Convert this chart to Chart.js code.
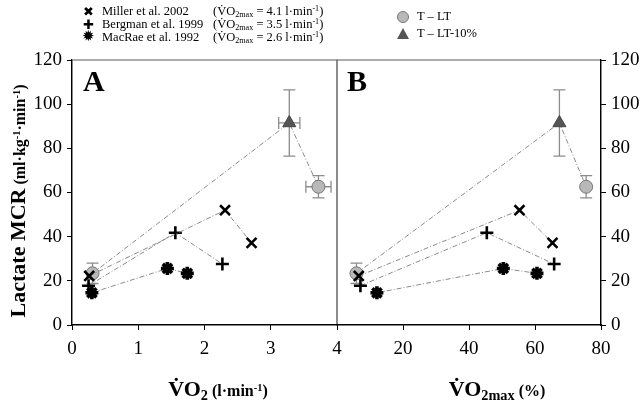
<!DOCTYPE html>
<html>
<head>
<meta charset="utf-8">
<script src="https://cdn.jsdelivr.net/npm/chart.js@4.4.1/dist/chart.umd.min.js"></script>
<style>
  body { margin: 0; background: #fff; }
  #wrap { position: relative; width: 640px; height: 403px; background: #fff; overflow: hidden;
          font-family: "Liberation Serif", "Times New Roman", serif; color: #000; }
  canvas { position: absolute; top: 0; }
  .t { position: absolute; white-space: nowrap; line-height: 1; }
  .leg { position: absolute; white-space: nowrap; font-size: 12.5px; line-height: 13px; }
  .sym { position: absolute; font-family: "DejaVu Sans", sans-serif; font-size: 13px; line-height: 13px; }
  sub, sup { font-size: 65%; line-height: 0; position: relative; vertical-align: baseline; }
  sub { top: 0.3em; }
  sup { top: -0.5em; }
</style>
</head>
<body>
<div id="wrap">
  <canvas id="chartA" width="360" height="403" style="left:0"></canvas>
  <canvas id="chartB" width="324" height="403" style="left:316px"></canvas>

  <!-- leyenda de estudios -->
  <div class="sym" style="left:83px;top:5px">✖</div>
  <div class="sym" style="left:83px;top:18px">✚</div>
  <div class="sym" style="left:82px;top:30px;font-size:15px">✹</div>
  <div class="leg" style="left:102px;top:5px">Miller et al. 2002</div>
  <div class="leg" style="left:102px;top:18px">Bergman et al. 1999</div>
  <div class="leg" style="left:102px;top:31px">MacRae et al. 1992</div>
  <div class="leg" style="left:213px;top:5px">(V&#775;O<sub>2max</sub> = 4.1 l·min<sup>-1</sup>)</div>
  <div class="leg" style="left:213px;top:18px">(V&#775;O<sub>2max</sub> = 3.5 l·min<sup>-1</sup>)</div>
  <div class="leg" style="left:213px;top:31px">(V&#775;O<sub>2max</sub> = 2.6 l·min<sup>-1</sup>)</div>

  <!-- leyenda T -->
  <div style="position:absolute;left:397px;top:11px;width:12px;height:12px;border-radius:50%;background:#b8b8b8;border:1px solid #777;box-sizing:border-box"></div>
  <div style="position:absolute;left:397px;top:28px;width:0;height:0;border-left:6px solid transparent;border-right:6px solid transparent;border-bottom:11px solid #555"></div>
  <div class="leg" style="left:417px;top:10px">T – LT</div>
  <div class="leg" style="left:417px;top:27px">T – LT-10%</div>

  <!-- letras de panel -->
  <div class="t" style="left:83px;top:66px;font-size:30px;font-weight:bold">A</div>
  <div class="t" style="left:347px;top:66px;font-size:30px;font-weight:bold">B</div>

  <!-- titulos de ejes -->
  <div class="t" style="left:-111px;top:188px;width:260px;text-align:center;transform:rotate(-90deg);font-weight:bold;line-height:24px">
    <span style="font-size:22px">Lactate MCR</span> <span style="font-size:16px">(ml·kg<sup>-1</sup>·min<sup>-1</sup>)</span>
  </div>
  <div class="t" style="left:118px;top:378px;width:200px;text-align:center;font-weight:bold">
    <span style="font-size:22px">V&#775;O<sub>2</sub></span> <span style="font-size:16px">(l·min<sup>-1</sup>)</span>
  </div>
  <div class="t" style="left:397px;top:378px;width:200px;text-align:center;font-weight:bold">
    <span style="font-size:22px">V&#775;O<sub>2max</sub></span> <span style="font-size:16px">(%)</span>
  </div>
</div>

<script>
// Valores
const mcrTicks = [0, 20, 40, 60, 80, 100, 120];

const millerVO2 = [0.26, 2.31, 2.71];
const millerPct = [6.6, 55.3, 65.3];
const millerMCR = [22.2, 52.0, 37.2];

const bergmanVO2 = [0.25, 1.56, 2.27];
const bergmanPct = [7.1, 45.4, 65.8];
const bergmanMCR = [17.8, 41.8, 27.6];

const macraeVO2 = [0.30, 1.44, 1.74];
const macraePct = [12.1, 50.4, 60.6];
const macraeMCR = [14.6, 25.6, 23.4];

// T: reposo, T-LT-10%, T-LT
const tVO2 = [0.31, 3.28, 3.72];
const tPct = [5.9, 67.4, 75.5];
const tMCR = [23.4, 91.5, 62.6];
const tMCRerr = [4.6, 15.0, 5.0];
const tVO2err = [0, 0.16, 0.19];
const tPctErr = [0, 0, 0];

const serif = "'Liberation Serif', 'Times New Roman', serif";
const lineGray = "#8a8a8a";
const dash = [5, 2, 1, 2];

function pts(xs, ys) {
  return xs.map((x, i) => ({ x: x, y: ys[i] }));
}

// barras de error con las escalas del grafico
const errorBars = {
  id: "errorBars",
  beforeDatasetsDraw(chart) {
    const ctx = chart.ctx;
    const xs = chart.scales.x, ys = chart.scales.y;
    ctx.save();
    ctx.strokeStyle = "#8c8c8c";
    ctx.lineWidth = 1.3;
    chart.data.datasets.forEach(ds => {
      if (!ds.errY) return;
      ds.data.forEach((p, j) => {
        const px = xs.getPixelForValue(p.x), py = ys.getPixelForValue(p.y);
        const ey = ds.errY[j], ex = ds.errX ? ds.errX[j] : 0;
        if (ey > 0) {
          const y1 = ys.getPixelForValue(p.y + ey), y2 = ys.getPixelForValue(p.y - ey);
          ctx.beginPath();
          ctx.moveTo(px, y1); ctx.lineTo(px, y2);
          ctx.moveTo(px - 6, y1); ctx.lineTo(px + 6, y1);
          ctx.moveTo(px - 6, y2); ctx.lineTo(px + 6, y2);
          ctx.stroke();
        }
        if (ex > 0) {
          const x1 = xs.getPixelForValue(p.x - ex), x2 = xs.getPixelForValue(p.x + ex);
          ctx.beginPath();
          ctx.moveTo(x1, py); ctx.lineTo(x2, py);
          ctx.moveTo(x1, py - 6); ctx.lineTo(x1, py + 6);
          ctx.moveTo(x2, py - 6); ctx.lineTo(x2, py + 6);
          ctx.stroke();
        }
      });
    });
    ctx.restore();
  }
};

// marco gris del area
const frame = {
  id: "frame",
  beforeDraw(chart) {
    const { ctx, chartArea: a } = chart;
    ctx.save();
    ctx.strokeStyle = "#777";
    ctx.lineWidth = 1.2;
    ctx.strokeRect(a.left, a.top, a.right - a.left, a.bottom - a.top);
    ctx.restore();
  }
};

function datasets(xMiller, xBergman, xMacrae, xT, errX) {
  const base = { showLine: true, borderColor: lineGray, borderWidth: 1, borderDash: dash, fill: false };
  return [
    Object.assign({}, base, { label: "Miller et al. 2002", data: pts(xMiller, millerMCR),
      pointStyle: "crossRot", pointRadius: 7, pointBorderColor: "#000", pointBorderWidth: 2.6 }),
    Object.assign({}, base, { label: "Bergman et al. 1999", data: pts(xBergman, bergmanMCR),
      pointStyle: "cross", pointRadius: 6.5, pointBorderColor: "#000", pointBorderWidth: 2.6 }),
    Object.assign({}, base, { label: "MacRae et al. 1992", data: pts(xMacrae, macraeMCR),
      pointStyle: "star", pointRadius: 6.5, pointBorderColor: "#000", pointBorderWidth: 3.6 }),
    Object.assign({}, base, { label: "T", data: pts(xT, tMCR),
      pointStyle: ["circle", "triangle", "circle"], pointRadius: [6.5, 7.5, 6.5],
      pointBackgroundColor: ["#b8b8b8", "#555555", "#b8b8b8"],
      pointBorderColor: ["#777", "#444", "#777"], pointBorderWidth: 1,
      errY: tMCRerr, errX: errX })
  ];
}

function yScale(pos, w) {
  return {
    type: "linear", position: pos, min: 0, max: 120,
    afterBuildTicks(s) { s.ticks = mcrTicks.map(v => ({ value: v })); },
    afterFit(s) { s.width = w; },
    grid: { drawOnChartArea: false, drawTicks: true, tickLength: 5, color: "#000" },
    border: { display: true, color: "#000", width: 1.2 },
    ticks: { padding: 5, color: "#000", font: { family: serif, size: 19 } }
  };
}

function xScale(max, step, hideZero) {
  return {
    type: "linear", position: "bottom", min: 0, max: max,
    afterFit(s) { s.height = 78; },
    grid: { drawOnChartArea: false, drawTicks: true, tickLength: 5, color: "#000" },
    border: { display: true, color: "#000", width: 1.2 },
    ticks: { stepSize: step, padding: 8, color: "#000", font: { family: serif, size: 19 },
      callback: v => (hideZero && v === 0) ? "" : v }
  };
}

const common = {
  responsive: false, animation: false, devicePixelRatio: 1,
  plugins: { legend: { display: false }, tooltip: { enabled: false } }
};

new Chart(document.getElementById("chartA"), {
  type: "scatter",
  data: { datasets: datasets(millerVO2, bergmanVO2, macraeVO2, tVO2, tVO2err) },
  options: Object.assign({}, common, {
    layout: { padding: { top: 60, left: 0, right: 23, bottom: 0 } },
    scales: { x: xScale(4, 1, false), y: yScale("left", 72) }
  }),
  plugins: [frame, errorBars]
});

new Chart(document.getElementById("chartB"), {
  type: "scatter",
  data: { datasets: datasets(millerPct, bergmanPct, macraePct, tPct, tPctErr) },
  options: Object.assign({}, common, {
    layout: { padding: { top: 60, left: 21, right: 0, bottom: 0 } },
    scales: { x: xScale(80, 20, true), y: yScale("right", 39) }
  }),
  plugins: [frame, errorBars]
});
</script>
</body>
</html>
